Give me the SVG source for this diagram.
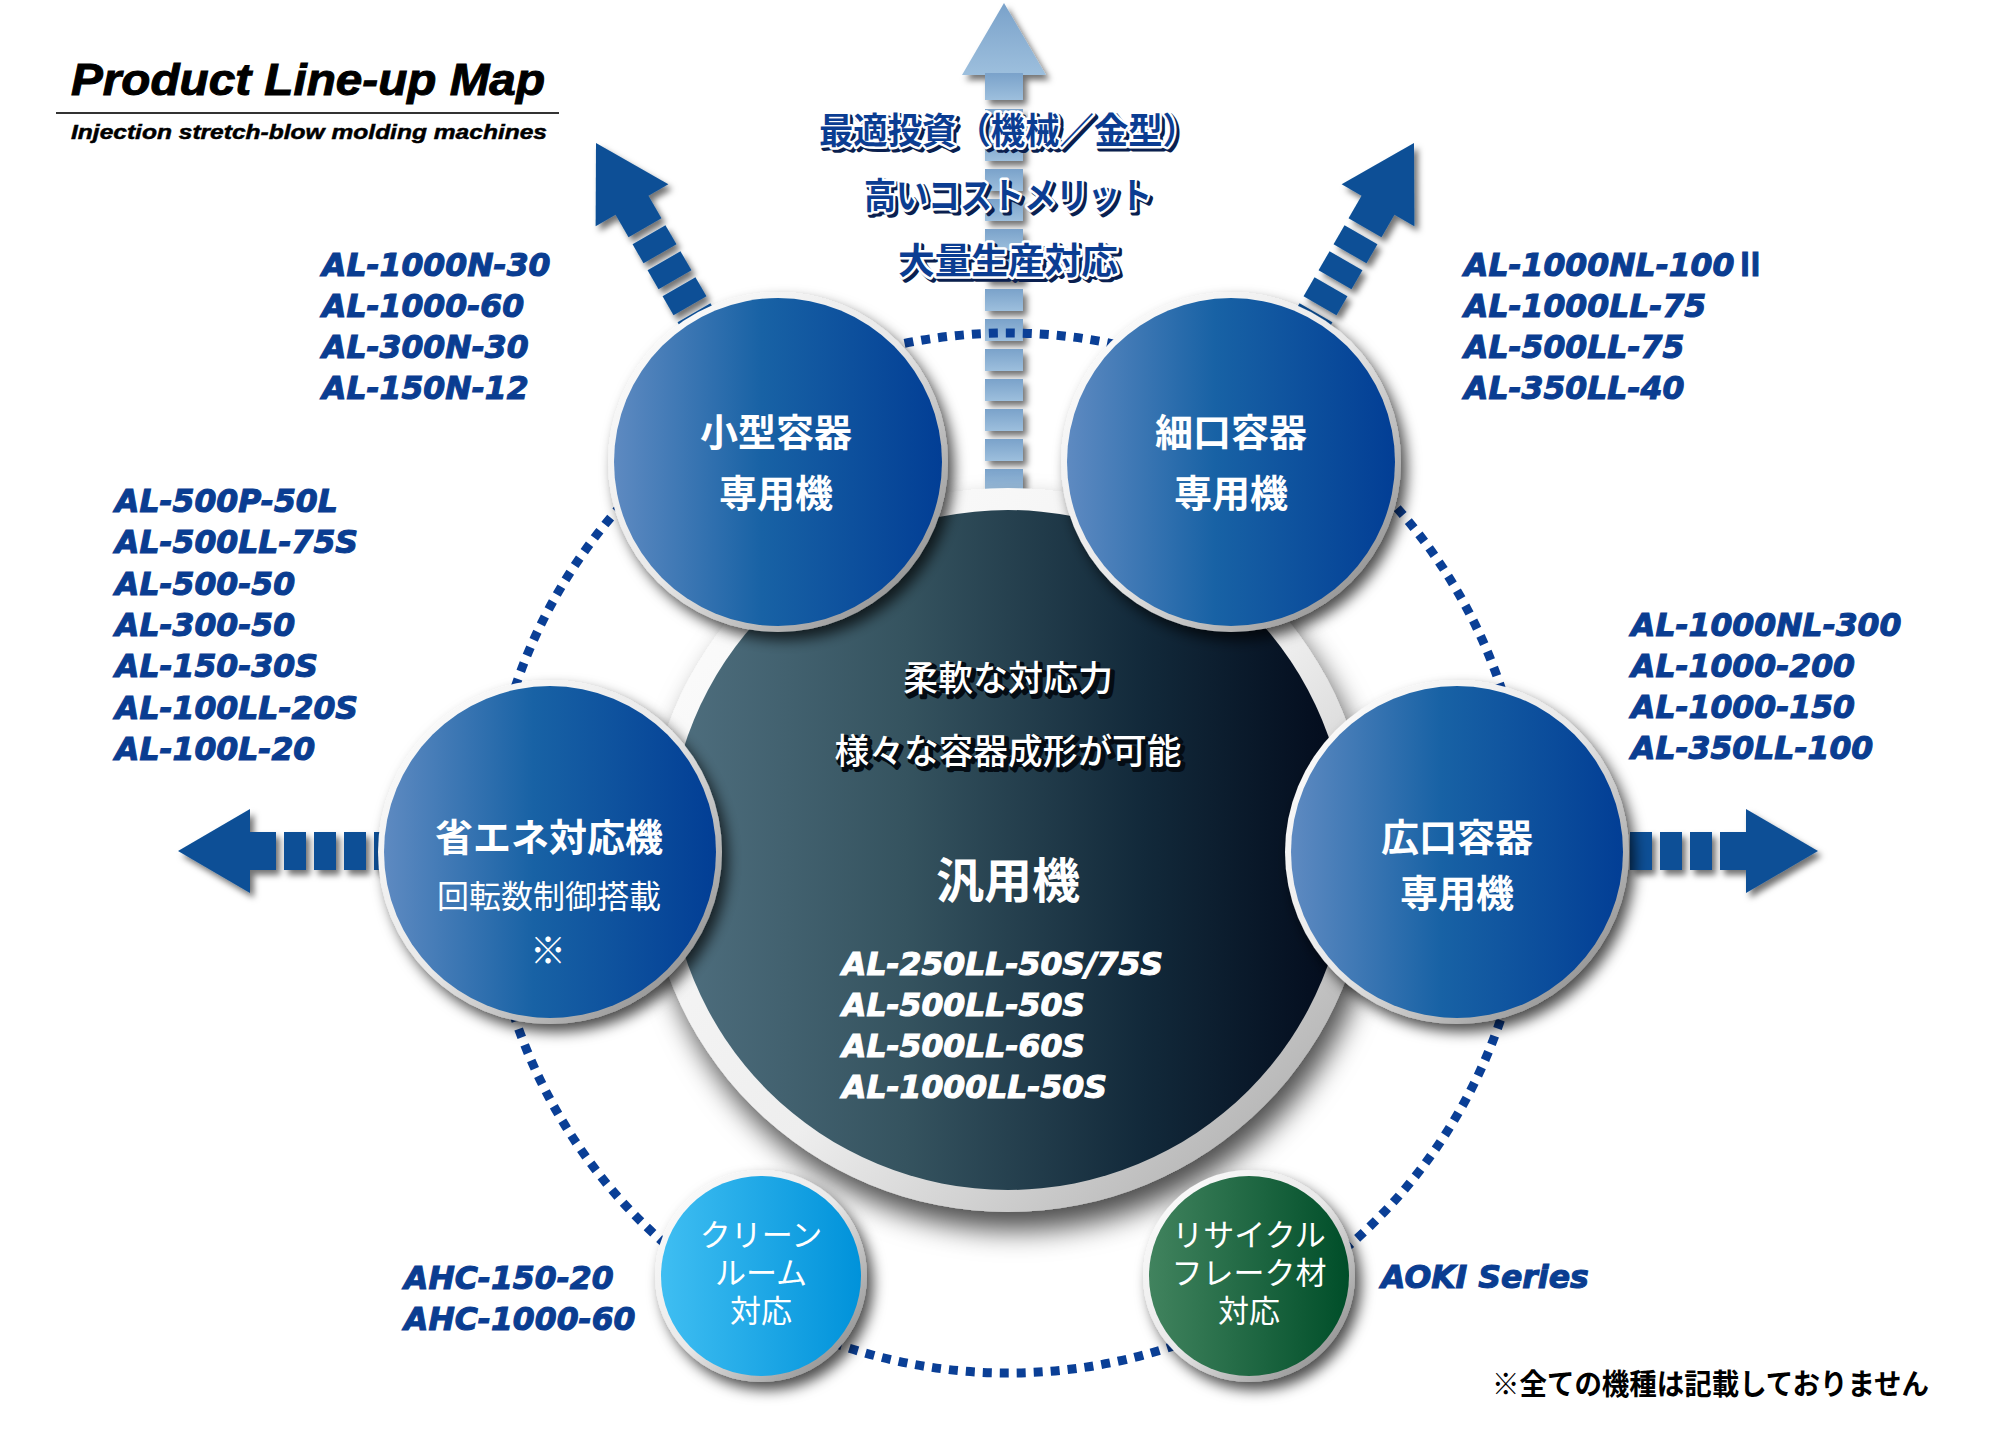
<svg xmlns="http://www.w3.org/2000/svg" width="2000" height="1440" viewBox="0 0 2000 1440">
<defs>
<style>
.m{font-family:"DejaVu Sans","Noto Sans CJK JP",sans-serif;font-weight:bold;font-style:oblique;font-size:31.5px;fill:#0a3d91;stroke:#0a3d91;stroke-width:1.1px}
.mw{font-family:"DejaVu Sans","Noto Sans CJK JP",sans-serif;font-weight:bold;font-style:oblique;font-size:31.5px;fill:#ffffff;stroke:#ffffff;stroke-width:1.1px}
.rn{font-family:"Noto Sans CJK JP",sans-serif;font-style:normal;font-weight:700}
.jb{font-family:"Noto Sans CJK JP",sans-serif;font-weight:700;fill:#ffffff;text-anchor:middle}
.jr{font-family:"Noto Sans CJK JP",sans-serif;font-weight:400;fill:#ffffff;text-anchor:middle}
.top{font-family:"Noto Sans CJK JP",sans-serif;font-weight:700;font-size:36px;text-anchor:middle;fill:#0b3d92;stroke:#ffffff;stroke-width:5px;paint-order:stroke;stroke-linejoin:round}
.topsh{font-family:"Noto Sans CJK JP",sans-serif;font-weight:700;font-size:36px;text-anchor:middle;fill:#0a1f4f;stroke:#0a1f4f;stroke-width:5px;stroke-linejoin:round}
.csh{font-family:"Noto Sans CJK JP",sans-serif;font-weight:500;font-size:35px;text-anchor:middle;fill:#040c14;stroke:#040c14;stroke-width:4px;stroke-linejoin:round}
.cw{font-family:"Noto Sans CJK JP",sans-serif;font-weight:500;font-size:35px;text-anchor:middle;fill:#ffffff}
.arr{fill:#0b5096}
.dots{fill:none;stroke:#0a3f96;stroke-width:9;stroke-dasharray:9 8}
</style>
<linearGradient id="gBlue" x1="0" y1="0" x2="1" y2="0">
<stop offset="0" stop-color="#5e8ac1"/><stop offset="0.45" stop-color="#1862a5"/><stop offset="1" stop-color="#023e95"/>
</linearGradient>
<linearGradient id="gBig" x1="0" y1="0" x2="1" y2="0">
<stop offset="0" stop-color="#4f6f7f"/><stop offset="0.35" stop-color="#35535f"/><stop offset="0.7" stop-color="#12293a"/><stop offset="1" stop-color="#020a1b"/>
</linearGradient>
<linearGradient id="gClean" x1="0" y1="0" x2="1" y2="0">
<stop offset="0" stop-color="#3fbef2"/><stop offset="1" stop-color="#0092da"/>
</linearGradient>
<linearGradient id="gGreen" x1="0" y1="0" x2="1" y2="0">
<stop offset="0" stop-color="#41835e"/><stop offset="1" stop-color="#004e29"/>
</linearGradient>
<linearGradient id="gRim" x1="0" y1="0" x2="1" y2="1">
<stop offset="0" stop-color="#ffffff"/><stop offset="0.5" stop-color="#e8e8e8"/><stop offset="1" stop-color="#7a7a7a"/>
</linearGradient>
<linearGradient id="gRing" x1="0" y1="0" x2="1" y2="1">
<stop offset="0" stop-color="#ffffff"/><stop offset="0.55" stop-color="#eeeeee"/><stop offset="1" stop-color="#a0a0a0"/>
</linearGradient>
<linearGradient id="gTop" x1="0" y1="0" x2="0" y2="1">
<stop offset="0" stop-color="#7aa2ca"/><stop offset="1" stop-color="#9dbfdd"/>
</linearGradient>
<filter id="shC" x="-20%" y="-20%" width="150%" height="150%">
<feGaussianBlur in="SourceAlpha" stdDeviation="7"/>
<feOffset dx="6" dy="8" result="b"/>
<feFlood flood-color="#000" flood-opacity="0.7"/>
<feComposite in2="b" operator="in"/>
<feMerge><feMergeNode/><feMergeNode in="SourceGraphic"/></feMerge>
</filter>
<filter id="shB" x="-20%" y="-20%" width="150%" height="150%">
<feGaussianBlur in="SourceAlpha" stdDeviation="14"/>
<feOffset dx="8" dy="18" result="b"/>
<feFlood flood-color="#000" flood-opacity="0.7"/>
<feComposite in2="b" operator="in"/>
<feMerge><feMergeNode/><feMergeNode in="SourceGraphic"/></feMerge>
</filter>
<filter id="shA" x="-30%" y="-30%" width="170%" height="170%">
<feGaussianBlur in="SourceAlpha" stdDeviation="3"/>
<feOffset dx="4" dy="5" result="b"/>
<feFlood flood-color="#000" flood-opacity="0.55"/>
<feComposite in2="b" operator="in"/>
<feMerge><feMergeNode/><feMergeNode in="SourceGraphic"/></feMerge>
</filter>
<g id="arrowShape">
<polygon points="0,0 42,72 -42,72"/>
<rect x="-19" y="70" width="38" height="28"/>
<rect x="-19" y="106" width="38" height="22"/>
<rect x="-19" y="136" width="38" height="22"/>
<rect x="-19" y="166" width="38" height="22"/>
<rect x="-19" y="196" width="38" height="22"/>
<rect x="-19" y="226" width="38" height="22"/>
</g>
</defs>
<rect x="0" y="0" width="2000" height="1440" fill="#ffffff"/>

<g id="title">
<text x="71" y="95" font-family="Liberation Sans, Arial, sans-serif" font-weight="bold" font-style="italic" font-size="44" fill="#000" stroke="#000" stroke-width="1" textLength="474" lengthAdjust="spacingAndGlyphs">Product Line-up Map</text>
<line x1="56" y1="113" x2="559" y2="113" stroke="#333" stroke-width="2"/>
<text x="71" y="139" font-family="Liberation Sans, Arial, sans-serif" font-weight="bold" font-style="italic" font-size="21" fill="#000" stroke="#000" stroke-width="0.5" textLength="476" lengthAdjust="spacingAndGlyphs">Injection stretch-blow molding machines</text>
</g>

<g id="connectors">
<g id="arrow-top" fill="url(#gTop)" filter="url(#shA)">
<polygon points="1004,3 1046,75 962,75"/>
<rect x="985" y="73" width="38" height="27"/>
<rect x="985" y="109" width="38" height="22"/>
<rect x="985" y="139" width="38" height="22"/>
<rect x="985" y="169" width="38" height="22"/>
<rect x="985" y="199" width="38" height="22"/>
<rect x="985" y="229" width="38" height="22"/>
<rect x="985" y="259" width="38" height="22"/>
<rect x="985" y="289" width="38" height="22"/>
<rect x="985" y="319" width="38" height="22"/>
<rect x="985" y="349" width="38" height="22"/>
<rect x="985" y="379" width="38" height="22"/>
<rect x="985" y="409" width="38" height="22"/>
<rect x="985" y="439" width="38" height="22"/>
<rect x="985" y="469" width="38" height="22"/>
</g>
<circle class="dots" cx="1008" cy="853" r="520"/>
<g id="arrow-ul" class="arr" filter="url(#shA)"><use href="#arrowShape" transform="translate(596,143) rotate(-30)"/></g>
<g id="arrow-ur" class="arr" filter="url(#shA)"><use href="#arrowShape" transform="translate(1414,143) rotate(30)"/></g>
<g id="arrow-l" class="arr" filter="url(#shA)"><use href="#arrowShape" transform="translate(178,851) rotate(-90)"/></g>
<g id="arrow-r" class="arr" filter="url(#shA)"><use href="#arrowShape" transform="translate(1818,851) rotate(90)"/></g>
</g>

<g id="node-general">
<g filter="url(#shB)">
<circle cx="1008" cy="850" r="362" fill="url(#gRing)"/>
</g>
<circle cx="1008" cy="850" r="340" fill="url(#gBig)"/>
<text class="csh" x="1011" y="694">柔軟な対応力</text>
<text class="cw" x="1008" y="691">柔軟な対応力</text>
<text class="csh" x="1011" y="767" textLength="347" lengthAdjust="spacingAndGlyphs">様々な容器成形が可能</text>
<text class="cw" x="1008" y="764" textLength="347" lengthAdjust="spacingAndGlyphs">様々な容器成形が可能</text>
<text class="jb" x="1008" y="898" font-size="48">汎用機</text>
<text class="mw" x="842" y="975">AL-250LL-50S/75S</text>
<text class="mw" x="842" y="1016">AL-500LL-50S</text>
<text class="mw" x="842" y="1057">AL-500LL-60S</text>
<text class="mw" x="842" y="1098">AL-1000LL-50S</text>
</g>

<g id="node-small">
<g filter="url(#shC)"><circle cx="778" cy="462" r="170" fill="url(#gRim)"/></g>
<circle cx="778" cy="462" r="164" fill="url(#gBlue)"/>
<text class="jb" x="776" y="446" font-size="38">小型容器</text>
<text class="jb" x="776" y="507" font-size="38">専用機</text>
</g>

<g id="node-narrow">
<g filter="url(#shC)"><circle cx="1231" cy="462" r="170" fill="url(#gRim)"/></g>
<circle cx="1231" cy="462" r="164" fill="url(#gBlue)"/>
<text class="jb" x="1231" y="446" font-size="38">細口容器</text>
<text class="jb" x="1231" y="507" font-size="38">専用機</text>
</g>

<g id="node-eco">
<g filter="url(#shC)"><circle cx="550" cy="852" r="172" fill="url(#gRim)"/></g>
<circle cx="550" cy="852" r="166" fill="url(#gBlue)"/>
<text class="jb" x="549" y="851" font-size="38">省エネ対応機</text>
<text class="jr" x="549" y="908" font-size="32">回転数制御搭載</text>
<text class="jr" x="548" y="964" font-size="36">※</text>
</g>

<g id="node-wide">
<g filter="url(#shC)"><circle cx="1457" cy="852" r="172" fill="url(#gRim)"/></g>
<circle cx="1457" cy="852" r="166" fill="url(#gBlue)"/>
<text class="jb" x="1457" y="851" font-size="38">広口容器</text>
<text class="jb" x="1457" y="907" font-size="38">専用機</text>
</g>

<g id="node-clean">
<g filter="url(#shC)"><circle cx="761" cy="1276" r="106" fill="url(#gRim)"/></g>
<circle cx="761" cy="1276" r="100" fill="url(#gClean)"/>
<text class="jr" x="761" y="1246" font-size="31">クリーン</text>
<text class="jr" x="761" y="1284" font-size="31">ルーム</text>
<text class="jr" x="761" y="1322" font-size="31">対応</text>
</g>

<g id="node-recycle">
<g filter="url(#shC)"><circle cx="1249" cy="1276" r="106" fill="url(#gRim)"/></g>
<circle cx="1249" cy="1276" r="100" fill="url(#gGreen)"/>
<text class="jr" x="1249" y="1246" font-size="31">リサイクル</text>
<text class="jr" x="1249" y="1284" font-size="31">フレーク材</text>
<text class="jr" x="1249" y="1322" font-size="31">対応</text>
</g>

<g id="top-labels">
<text class="topsh" x="1011" y="147" textLength="378" lengthAdjust="spacingAndGlyphs">最適投資（機械／金型）</text>
<text class="top" x="1008" y="144" textLength="378" lengthAdjust="spacingAndGlyphs">最適投資（機械／金型）</text>
<text class="topsh" x="1011" y="212" textLength="288" lengthAdjust="spacingAndGlyphs">高いコストメリット</text>
<text class="top" x="1008" y="209" textLength="288" lengthAdjust="spacingAndGlyphs">高いコストメリット</text>
<text class="topsh" x="1011" y="277" textLength="220" lengthAdjust="spacingAndGlyphs">大量生産対応</text>
<text class="top" x="1008" y="274" textLength="220" lengthAdjust="spacingAndGlyphs">大量生産対応</text>
</g>

<g id="list-small">
<text class="m" x="322" y="276">AL-1000N-30</text>
<text class="m" x="322" y="317">AL-1000-60</text>
<text class="m" x="322" y="358">AL-300N-30</text>
<text class="m" x="322" y="399">AL-150N-12</text>
</g>
<g id="list-narrow">
<text class="m" x="1464" y="276">AL-1000NL-100<tspan class="rn">Ⅱ</tspan></text>
<text class="m" x="1464" y="317">AL-1000LL-75</text>
<text class="m" x="1464" y="358">AL-500LL-75</text>
<text class="m" x="1464" y="399">AL-350LL-40</text>
</g>
<g id="list-eco">
<text class="m" x="115" y="512">AL-500P-50L</text>
<text class="m" x="115" y="553">AL-500LL-75S</text>
<text class="m" x="115" y="595">AL-500-50</text>
<text class="m" x="115" y="636">AL-300-50</text>
<text class="m" x="115" y="677">AL-150-30S</text>
<text class="m" x="115" y="719">AL-100LL-20S</text>
<text class="m" x="115" y="760">AL-100L-20</text>
</g>
<g id="list-wide">
<text class="m" x="1631" y="636">AL-1000NL-300</text>
<text class="m" x="1631" y="677">AL-1000-200</text>
<text class="m" x="1631" y="718">AL-1000-150</text>
<text class="m" x="1631" y="759">AL-350LL-100</text>
</g>
<g id="list-clean">
<text class="m" x="404" y="1289">AHC-150-20</text>
<text class="m" x="404" y="1330">AHC-1000-60</text>
</g>
<g id="list-recycle">
<text class="m" x="1381" y="1288">AOKI Series</text>
</g>
<g id="footnote">
<text x="1492" y="1395" font-family="Noto Sans CJK JP, sans-serif" font-weight="700" font-size="29" fill="#000" textLength="437" lengthAdjust="spacingAndGlyphs">※全ての機種は記載しておりません</text>
</g>
</svg>
